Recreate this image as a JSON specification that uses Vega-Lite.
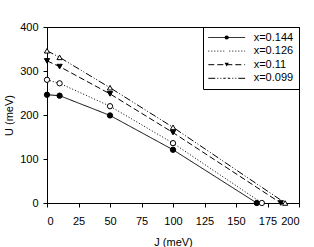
{
  "$schema": "https://vega.github.io/schema/vega-lite/v6.json",
  "autosize": {"type": "none"},
  "padding": {"left": 47, "top": 27, "right": 15, "bottom": 44},
  "width": 252,
  "height": 176,
  "config": {
    "font": "Liberation Sans",
    "view": {"stroke": "black", "strokeWidth": 1},
    "axis": {
      "grid": false,
      "domainColor": "black",
      "tickColor": "black",
      "labelColor": "black",
      "titleColor": "black",
      "labelFont": "Liberation Sans",
      "titleFont": "Liberation Sans",
      "labelFontSize": 11,
      "titleFontSize": 11,
      "titleFontWeight": "normal",
      "tickSize": 4,
      "labelOverlap": false
    },
    "legend": {
      "labelFont": "Liberation Sans",
      "labelFontSize": 11,
      "labelColor": "black"
    }
  },
  "data": {
    "values": [
      {"series": "x=0.144", "J": 0, "U": 246},
      {"series": "x=0.144", "J": 10, "U": 244},
      {"series": "x=0.144", "J": 50, "U": 199},
      {"series": "x=0.144", "J": 100, "U": 121},
      {"series": "x=0.144", "J": 166.5, "U": 0},
      {"series": "x=0.126", "J": 0, "U": 280},
      {"series": "x=0.126", "J": 10, "U": 272},
      {"series": "x=0.126", "J": 50, "U": 220},
      {"series": "x=0.126", "J": 100, "U": 136},
      {"series": "x=0.126", "J": 170.5, "U": 0},
      {"series": "x=0.11", "J": 0, "U": 323},
      {"series": "x=0.11", "J": 10, "U": 310},
      {"series": "x=0.11", "J": 50, "U": 248},
      {"series": "x=0.11", "J": 100, "U": 160},
      {"series": "x=0.11", "J": 185.5, "U": 0},
      {"series": "x=0.099", "J": 0, "U": 346},
      {"series": "x=0.099", "J": 10, "U": 331},
      {"series": "x=0.099", "J": 50, "U": 262},
      {"series": "x=0.099", "J": 100, "U": 172},
      {"series": "x=0.099", "J": 189, "U": 0}
    ]
  },
  "encoding": {
    "x": {
      "field": "J", "type": "quantitative",
      "scale": {"domain": [0, 200], "nice": false},
      "axis": {"title": "J (meV)", "values": [0, 25, 50, 75, 100, 125, 150, 175, 200], "labelPadding": 8, "titlePadding": 10}
    },
    "y": {
      "field": "U", "type": "quantitative",
      "scale": {"domain": [0, 400], "nice": false},
      "axis": {"title": "U (meV)", "values": [0, 100, 200, 300, 400], "labelPadding": 5, "titlePadding": 5}
    }
  },
  "layer": [
    {
      "mark": {"type": "line", "color": "black", "strokeWidth": 1},
      "encoding": {
        "strokeDash": {
          "field": "series", "type": "nominal",
          "scale": {
            "domain": ["x=0.144", "x=0.126", "x=0.11", "x=0.099"],
            "range": [[1, 0], [1, 2], [6, 3], [7, 2, 1, 2, 1, 2]]
          },
          "legend": {
            "title": null,
            "orient": "none",
            "legendX": 156,
            "legendY": 0,
            "strokeColor": "black",
            "padding": 5,
            "cornerRadius": 0,
            "symbolType": "M-4.6,0H4.6",
            "symbolSize": 64,
            "symbolStrokeColor": "black",
            "symbolStrokeWidth": 1,
            "symbolOffset": 13.2,
            "labelOffset": 21.5,
            "rowPadding": 1.6
          }
        }
      }
    },
    {
      "mark": {"type": "point", "filled": true, "stroke": "black", "strokeWidth": 1, "size": 28, "opacity": 1},
      "encoding": {
        "shape": {
          "field": "series", "type": "nominal", "sort": "descending",
          "scale": {"range": ["circle", "circle", "triangle-down", "triangle-up"]},
          "legend": {
            "title": null,
            "orient": "none",
            "legendX": 156,
            "legendY": 0,
            "padding": 5,
            "symbolSize": 18,
            "symbolStrokeColor": "black",
            "symbolStrokeWidth": 1,
            "symbolOffset": 13.2,
            "labelExpr": "' '",
            "labelOffset": 0,
            "labelOpacity": 0,
            "rowPadding": 1.6
          }
        },
        "fill": {
          "field": "series", "type": "nominal", "sort": "descending",
          "scale": {"range": ["black", "white", "black", "white"]}
        }
      }
    }
  ]
}
